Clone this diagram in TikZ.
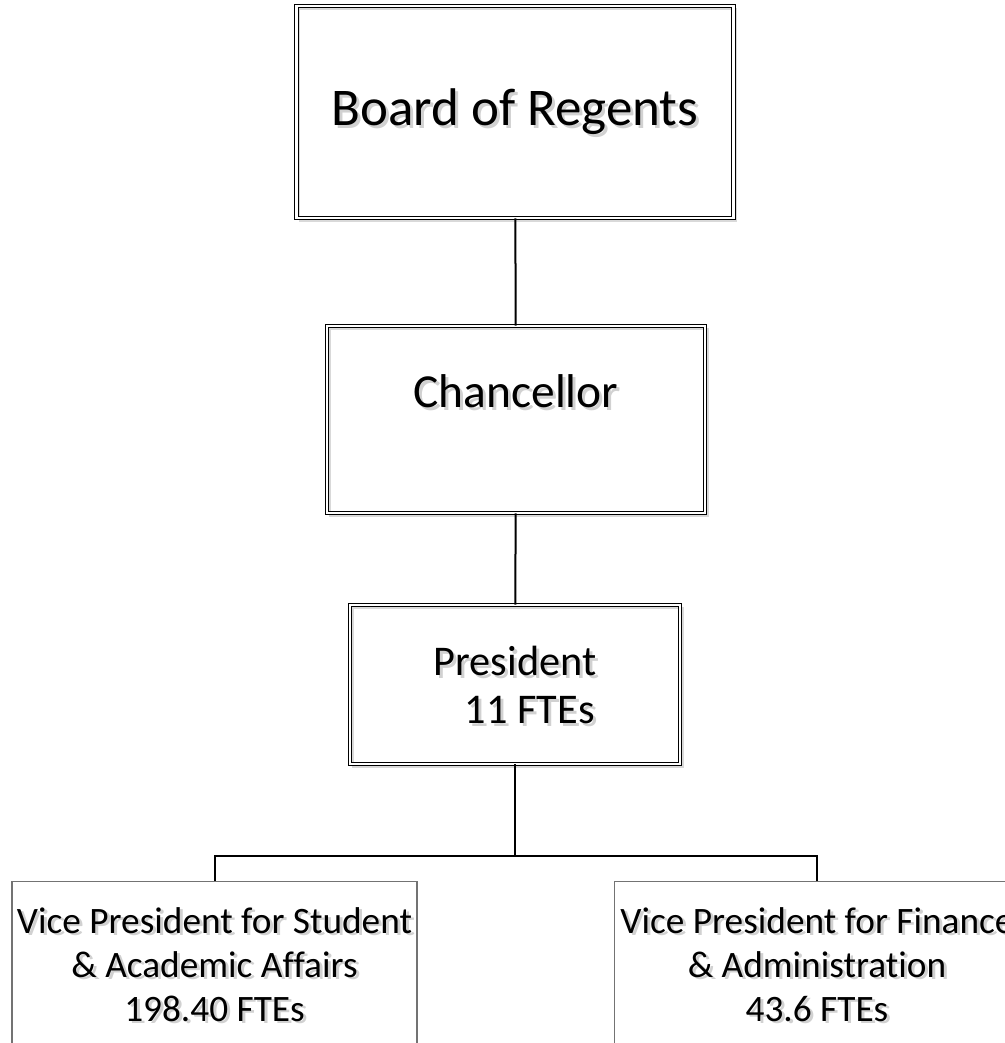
\documentclass[tikz,border=0pt]{standalone}
\usepackage{fontspec}
\setmainfont{Carlito}[Ligatures=NoCommon]
\usetikzlibrary{shadows}
\begin{document}
\begin{tikzpicture}[x=1pt, y=-1pt,
    dblbox/.style={draw=black, double=white, double distance=2.6pt, line width=0.8pt, align=center, inner sep=0pt,
      general shadow={draw=black!15, line width=1.4pt, shadow xshift=3pt, shadow yshift=-3pt}},
    unitbox/.style={draw=black!55, line width=1.1pt, align=center, inner sep=0pt, anchor=north,
      minimum width=405, minimum height=166, font=\fontsize{37.3}{44}\selectfont},
    txtshadow/.style={text=black!18, align=center, inner sep=0pt},
    link/.style={line width=2pt}]
  \useasboundingbox (0,0) rectangle (1004,1043);

  % Text shadows
  \node[txtshadow, font=\fontsize{53}{64}\selectfont] at (518,115) {Board of Regents};
  \node[txtshadow, font=\fontsize{47.4}{57}\selectfont] at (519,422.5) {Chancellor\\~};
  \node[txtshadow, font=\fontsize{42.3}{48}\selectfont] at (518,687.5) {President\\\hspace{0.7em}11 FTEs};
  \node[txtshadow, font=\fontsize{37.3}{44}\selectfont] at (217.5,967) {Vice President for Student\\\& Academic Affairs\\198.40 FTEs};
  \node[txtshadow, font=\fontsize{37.3}{44}\selectfont] at (820,967) {Vice President for Finance\\\& Administration\\43.6 FTEs};

  % Nodes
  \node[dblbox, minimum width=437, minimum height=212, font=\fontsize{53}{64}\selectfont] at (515,112) (board) {Board of Regents};
  \node[dblbox, minimum width=378, minimum height=187, font=\fontsize{47.4}{57}\selectfont] at (516,419.5) (chan) {Chancellor\\~};
  \node[dblbox, minimum width=330, minimum height=159, font=\fontsize{42.3}{48}\selectfont] at (515,684.5) (pres) {President\\\hspace{0.7em}11 FTEs};
  \node[unitbox] at (214.5,881) (vpsa) {Vice President for Student\\\& Academic Affairs\\198.40 FTEs};
  \node[unitbox] at (817,881) (vpfa) {Vice President for Finance\\\& Administration\\43.6 FTEs};
  \coordinate (split) at (515,856);

  \draw[link] (board) -- (chan);
  \draw[link] (chan) -- (pres);
  \draw[link] (pres) -- (split);
  \draw[link] (split) -| (vpsa);
  \draw[link] (split) -| (vpfa);
\end{tikzpicture}
\end{document}
